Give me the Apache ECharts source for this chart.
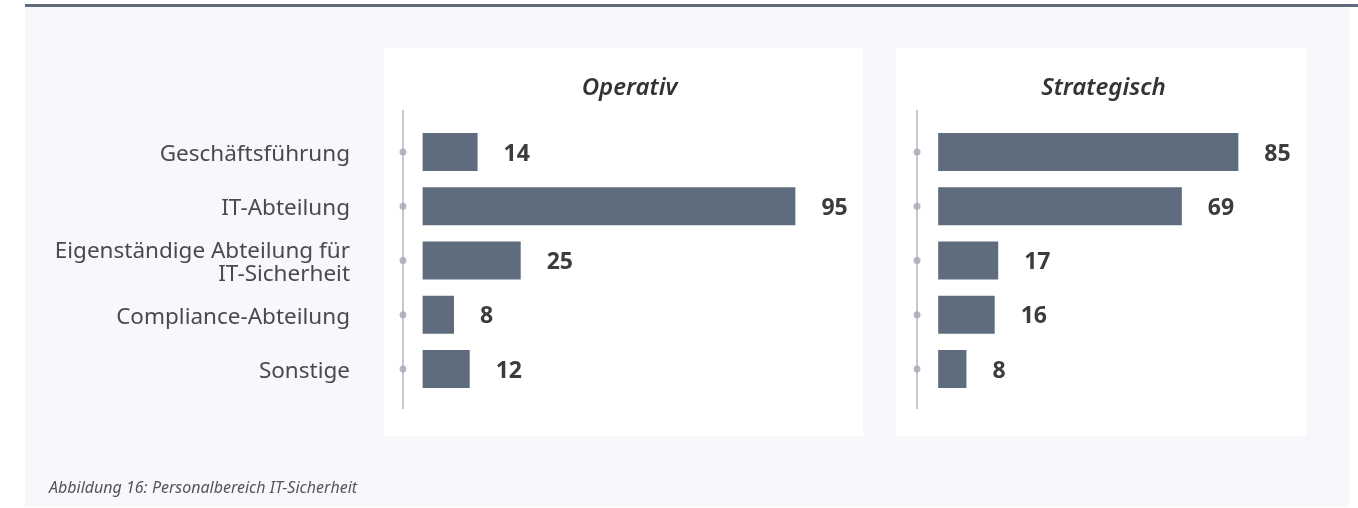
<!DOCTYPE html>
<html>
<head>
<meta charset="utf-8">
<script src="https://cdn.jsdelivr.net/npm/echarts@6/dist/echarts.min.js"></script>
<style>
html,body{margin:0;padding:0;background:#ffffff;}
#chart{width:1358px;height:508px;}
</style>
</head>
<body>
<div id="chart"></div>
<script>
// ---- data ----
const categories = ['Geschäftsführung', 'IT-Abteilung', 'Eigenständige Abteilung für\nIT-Sicherheit', 'Compliance-Abteilung', 'Sonstige'];
const operativValues = [14, 95, 25, 8, 12];
const strategischValues = [85, 69, 17, 16, 8];
const panelTitles = ['Operativ', 'Strategisch'];
const caption = 'Abbildung 16: Personalbereich IT-Sicherheit';

// ---- layout / style ----
const FONT = '"Noto Sans", "Open Sans", sans-serif';
const BAR_COLOR = '#5e6c7d';
const AXIS_COLOR = '#b2b6c1';
const DOT_COLOR = '#a3a8b5';
const gridTop = 124.9, gridHeight = 271.3;
const axisTopY = 110, axisBottomY = 409;

const leftMin = -5, leftMax = 100;
const rightMin = -6, rightMax = 90;
const leftGrid = {left: 403, top: gridTop, width: 412, height: gridHeight};
const rightGrid = {left: 917, top: gridTop, width: 339, height: gridHeight};

const chart = echarts.init(document.getElementById('chart'), null, {renderer: 'canvas'});

function yAx(gridIndex, showLabels) {
  return {
    type: 'category', gridIndex, data: categories, inverse: true,
    axisLine: {show: false}, axisTick: {show: false}, splitLine: {show: false},
    axisLabel: {
      show: showLabels, margin: 53, fontSize: 22.5, color: '#4a4a4a',
      fontFamily: FONT, lineHeight: 23, align: 'right',
      formatter: v => v.split('\n').map(s => '{t|' + s + '}').join('\n'),
      rich: {t: {fontSize: 22.5, color: '#4a4a4a', fontFamily: FONT, lineHeight: 23, padding: [5, 0, 0, 0]}}
    }
  };
}
function xAx(gridIndex, min, max) {
  return {type: 'value', gridIndex, min, max, show: false, splitLine: {show: false}};
}
function barSeries(idx, vals) {
  return {
    type: 'bar', xAxisIndex: idx, yAxisIndex: idx, data: vals, barWidth: 38,
    itemStyle: {color: BAR_COLOR}, silent: true,
    label: {show: true, position: 'right', distance: 26, offset: [0, 2], fontSize: 23, fontWeight: 'bold',
      color: '#3c3c3c', fontFamily: FONT}
  };
}
function dotSeries(idx, min) {
  return {
    type: 'scatter', xAxisIndex: idx, yAxisIndex: idx, symbolSize: 7, silent: true,
    itemStyle: {color: DOT_COLOR}, z: 5,
    data: categories.map((c, i) => [min, i])
  };
}

const option = {
  backgroundColor: '#ffffff',
  animation: false,
  textStyle: {fontFamily: FONT},
  graphic: [
    {type: 'rect', shape: {x: 25, y: 7, width: 1324, height: 500}, style: {fill: '#f6f8fc'}, z: -10},
    {type: 'rect', shape: {x: 25, y: 4, width: 1333, height: 3}, style: {fill: '#5f6c7b'}, z: -9},
    {type: 'rect', shape: {x: 384, y: 48, width: 479, height: 388}, style: {fill: '#ffffff'}, z: -8},
    {type: 'rect', shape: {x: 896, y: 48, width: 410, height: 388}, style: {fill: '#ffffff'}, z: -8},
    {type: 'line', shape: {x1: 403, y1: axisTopY, x2: 403, y2: axisBottomY}, style: {stroke: AXIS_COLOR, lineWidth: 1.5}, z: 1},
    {type: 'line', shape: {x1: 917, y1: axisTopY, x2: 917, y2: axisBottomY}, style: {stroke: AXIS_COLOR, lineWidth: 1.5}, z: 1}
  ],
  title: [
    {text: panelTitles[0], left: 624.5, top: 71, textAlign: 'center',
      textStyle: {fontSize: 24, fontStyle: 'italic', fontWeight: 600, color: '#333333', fontFamily: FONT}},
    {text: panelTitles[1], left: 1098.5, top: 71, textAlign: 'center',
      textStyle: {fontSize: 24, fontStyle: 'italic', fontWeight: 600, color: '#333333', fontFamily: FONT}},
    {text: caption, left: 44, top: 475,
      textStyle: {fontSize: 16, fontStyle: 'italic', fontWeight: 'normal', color: '#555555', fontFamily: FONT}}
  ],
  grid: [leftGrid, rightGrid],
  xAxis: [xAx(0, leftMin, leftMax), xAx(1, rightMin, rightMax)],
  yAxis: [yAx(0, true), yAx(1, false)],
  series: [
    barSeries(0, operativValues), barSeries(1, strategischValues),
    dotSeries(0, leftMin), dotSeries(1, rightMin)
  ]
};
chart.setOption(option);
</script>
</body>
</html>
